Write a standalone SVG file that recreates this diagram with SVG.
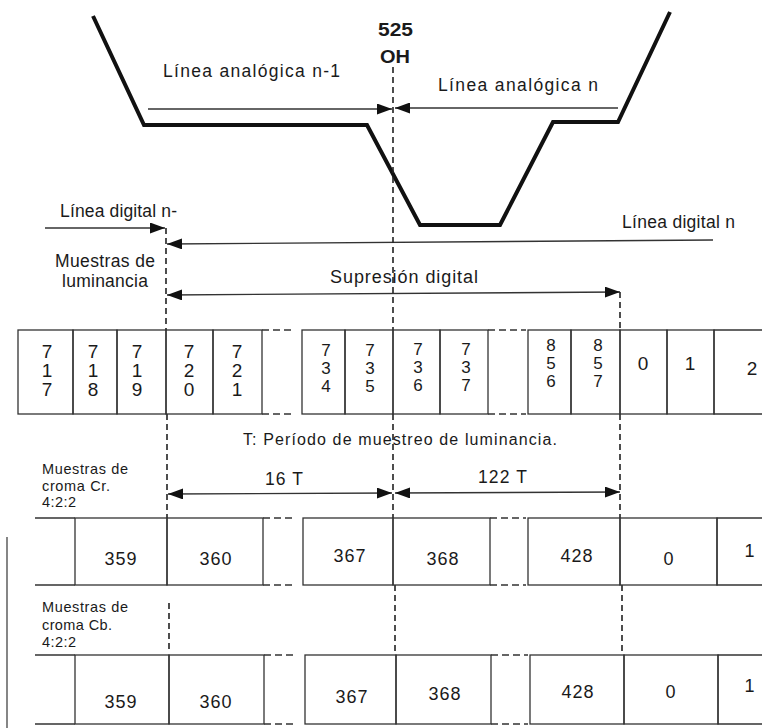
<svg xmlns="http://www.w3.org/2000/svg" width="762" height="728" viewBox="0 0 762 728">
<style>
.bg{fill:#fff}
.thick{stroke:#111;stroke-width:4;fill:none;stroke-linejoin:miter}
.arr{stroke:#333;stroke-width:1.3;fill:none}
.dash{stroke:#222;stroke-width:1.6;stroke-dasharray:6 4;fill:none}
.cell{fill:none;stroke:#333;stroke-width:1.3}
.gapd{stroke:#333;stroke-width:1.6;stroke-dasharray:7 4;fill:none}
text{font-family:"Liberation Sans",Arial,Helvetica,sans-serif;fill:#1a1a1a}
.lbl{font-size:17.5px}
.sm{font-size:14.5px}
.num{font-size:19px;text-anchor:middle}
.num2{font-size:17px;text-anchor:middle}
.cn{font-size:18px;text-anchor:middle;letter-spacing:1px}
.bold{font-weight:bold;font-size:18px}
</style>
<defs>
<marker id="ah" viewBox="0 0 15 11" refX="15" refY="5.5" markerWidth="15" markerHeight="11" markerUnits="userSpaceOnUse" orient="auto-start-reverse">
<path d="M0,0 L15,5.5 L0,11 z" fill="#111"/>
</marker>
</defs>
<rect class="bg" x="0" y="0" width="762" height="728"/>

<g id="waveform">
<path class="thick" d="M93,16 L144,125 L367,125 L420,225 L500,225 L553,122 L618,122 L670,12"/>
</g>

<g id="labels">
<text class="bold" x="378" y="36" textLength="35" lengthAdjust="spacingAndGlyphs">525</text>
<text class="bold" x="380" y="63" textLength="30" lengthAdjust="spacingAndGlyphs">OH</text>
<text class="lbl" x="163" y="77" textLength="177" lengthAdjust="spacing">Línea analógica n-1</text>
<text class="lbl" x="438" y="91" textLength="160" lengthAdjust="spacing">Línea analógica n</text>
<text class="lbl" x="60" y="217" textLength="117" lengthAdjust="spacing">Línea digital n-</text>
<text class="lbl" x="622" y="228" textLength="113" lengthAdjust="spacing">Línea digital n</text>
<text class="lbl" x="55" y="267" textLength="100" lengthAdjust="spacing">Muestras de</text>
<text class="lbl" x="62" y="287" textLength="86" lengthAdjust="spacing">luminancia</text>
<text class="lbl" x="330" y="283" textLength="148" lengthAdjust="spacing" style="font-size:18px">Supresión digital</text>
<text class="lbl" x="243" y="445" textLength="314" lengthAdjust="spacing" style="font-size:16px">T: Período de muestreo de luminancia.</text>
<text class="lbl" x="265" y="485" textLength="38" lengthAdjust="spacing">16 T</text>
<text class="lbl" x="478" y="483" textLength="49" lengthAdjust="spacing">122 T</text>
<text class="sm" x="42" y="474" textLength="86" lengthAdjust="spacing">Muestras de</text>
<text class="sm" x="42" y="491" textLength="68" lengthAdjust="spacing">croma Cr.</text>
<text class="sm" x="42" y="507" textLength="34" lengthAdjust="spacing">4:2:2</text>
<text class="sm" x="42" y="612" textLength="86" lengthAdjust="spacing">Muestras de</text>
<text class="sm" x="42" y="630" textLength="70" lengthAdjust="spacing">croma Cb.</text>
<text class="sm" x="42" y="647" textLength="34" lengthAdjust="spacing">4:2:2</text>
</g>

<g id="connectors">
<line class="arr" x1="148" y1="109" x2="392" y2="109" marker-end="url(#ah)"/>
<line class="arr" x1="618" y1="108" x2="395" y2="108" marker-end="url(#ah)"/>
<line class="arr" x1="45" y1="228" x2="165" y2="228" marker-end="url(#ah)"/>
<line class="arr" x1="713" y1="240" x2="167" y2="244" marker-end="url(#ah)"/>
<line class="arr" x1="167" y1="295" x2="620" y2="292" marker-start="url(#ah)" marker-end="url(#ah)"/>
<line class="arr" x1="168" y1="494" x2="392" y2="493" marker-start="url(#ah)" marker-end="url(#ah)"/>
<line class="arr" x1="395" y1="493" x2="620" y2="492" marker-start="url(#ah)" marker-end="url(#ah)"/>
<path class="dash" d="M393,67 V330 M393,414 V518 M395,585 V655"/>
<path class="dash" d="M166,228 V330 M167,414 V518 M169,603 V653"/>
<path class="dash" d="M620,292 V330 M620,414 V518 M622,585 V655"/>
<line x1="7" y1="537" x2="7" y2="728" stroke="#444" stroke-width="1.3"/>
</g>

<g id="luma-row">
<g id="l717"><rect class="cell" x="18" y="330" width="55" height="84"/><text class="num"><tspan x="47" y="358">7</tspan><tspan x="47" y="377">1</tspan><tspan x="47" y="396">7</tspan></text></g>
<g id="l718"><rect class="cell" x="73" y="330" width="44" height="84"/><text class="num"><tspan x="93" y="358">7</tspan><tspan x="93" y="377">1</tspan><tspan x="93" y="396">8</tspan></text></g>
<g id="l719"><rect class="cell" x="117" y="330" width="49" height="84"/><text class="num"><tspan x="137" y="358">7</tspan><tspan x="137" y="377">1</tspan><tspan x="137" y="396">9</tspan></text></g>
<g id="l720"><rect class="cell" x="166" y="330" width="47" height="84"/><text class="num"><tspan x="189" y="358">7</tspan><tspan x="189" y="377">2</tspan><tspan x="189" y="396">0</tspan></text></g>
<g id="l721"><rect class="cell" x="213" y="330" width="49" height="84"/><text class="num"><tspan x="237" y="358">7</tspan><tspan x="237" y="377">2</tspan><tspan x="237" y="396">1</tspan></text></g>
<g id="lgap1"><path class="gapd" d="M262,330 H294 M262,414 H294"/></g>
<g id="l734"><rect class="cell" x="302" y="330" width="43" height="84"/><text class="num2"><tspan x="326" y="356">7</tspan><tspan x="326" y="374">3</tspan><tspan x="326" y="392">4</tspan></text></g>
<g id="l735"><rect class="cell" x="345" y="330" width="48" height="84"/><text class="num2"><tspan x="370" y="356">7</tspan><tspan x="370" y="374">3</tspan><tspan x="370" y="392">5</tspan></text></g>
<g id="l736"><rect class="cell" x="393" y="330" width="47" height="84"/><text class="num2"><tspan x="418" y="355">7</tspan><tspan x="418" y="373">3</tspan><tspan x="418" y="391">6</tspan></text></g>
<g id="l737"><rect class="cell" x="440" y="330" width="48" height="84"/><text class="num2"><tspan x="466" y="355">7</tspan><tspan x="466" y="373">3</tspan><tspan x="466" y="391">7</tspan></text></g>
<g id="lgap2"><path class="gapd" d="M488,330 H526 M488,414 H526"/></g>
<g id="l856"><rect class="cell" x="528" y="330" width="43" height="84"/><text class="num2"><tspan x="551" y="351">8</tspan><tspan x="551" y="369">5</tspan><tspan x="551" y="387">6</tspan></text></g>
<g id="l857"><rect class="cell" x="571" y="330" width="49" height="84"/><text class="num2"><tspan x="598" y="351">8</tspan><tspan x="598" y="369">5</tspan><tspan x="598" y="387">7</tspan></text></g>
<g id="l0"><rect class="cell" x="620" y="330" width="47" height="84"/><text class="num" x="643" y="370">0</text></g>
<g id="l1"><rect class="cell" x="667" y="330" width="47" height="84"/><text class="num" x="690" y="370">1</text></g>
<g id="l2"><path class="cell" d="M762,330 H714 V414 H762"/><text class="num" x="752" y="375">2</text></g>
</g>

<g id="cr-row">
<g id="crleft"><path class="cell" d="M35,518 H75 M35,585 H75"/></g>
<g id="cr359"><rect class="cell" x="75" y="518" width="92" height="67"/><text class="cn" x="121" y="565">359</text></g>
<g id="cr360"><rect class="cell" x="167" y="518" width="96" height="67"/><text class="cn" x="216" y="565">360</text></g>
<g id="crgap1"><path class="gapd" d="M263,518 H295 M263,585 H295"/></g>
<g id="cr367"><rect class="cell" x="303" y="518" width="90" height="67"/><text class="cn" x="350" y="562">367</text></g>
<g id="cr368"><rect class="cell" x="393" y="518" width="97" height="67"/><text class="cn" x="443" y="565">368</text></g>
<g id="crgap2"><path class="gapd" d="M490,518 H526 M490,585 H526"/></g>
<g id="cr428"><rect class="cell" x="528" y="518" width="92" height="67"/><text class="cn" x="577" y="562">428</text></g>
<g id="cr0"><rect class="cell" x="620" y="518" width="97" height="67"/><text class="cn" x="669" y="565">0</text></g>
<g id="cr1"><path class="cell" d="M762,518 H717 V585 H762"/><text class="cn" x="750" y="557">1</text></g>
</g>

<g id="cb-row">
<g id="cbleft"><path class="cell" d="M35,655 H75 M35,724 H75"/></g>
<g id="cb359"><rect class="cell" x="75" y="655" width="94" height="69"/><text class="cn" x="121" y="708">359</text></g>
<g id="cb360"><rect class="cell" x="169" y="655" width="95" height="69"/><text class="cn" x="216" y="708">360</text></g>
<g id="cbgap1"><path class="gapd" d="M264,655 H297 M264,724 H297"/></g>
<g id="cb367"><rect class="cell" x="305" y="655" width="91" height="69"/><text class="cn" x="352" y="703">367</text></g>
<g id="cb368"><rect class="cell" x="396" y="655" width="95" height="69"/><text class="cn" x="445" y="700">368</text></g>
<g id="cbgap2"><path class="gapd" d="M491,655 H528 M491,724 H528"/></g>
<g id="cb428"><rect class="cell" x="530" y="655" width="94" height="69"/><text class="cn" x="578" y="698">428</text></g>
<g id="cb0"><rect class="cell" x="624" y="655" width="94" height="69"/><text class="cn" x="671" y="698">0</text></g>
<g id="cb1"><path class="cell" d="M762,655 H718 V724 H762"/><text class="cn" x="750" y="692">1</text></g>
</g>
</svg>
